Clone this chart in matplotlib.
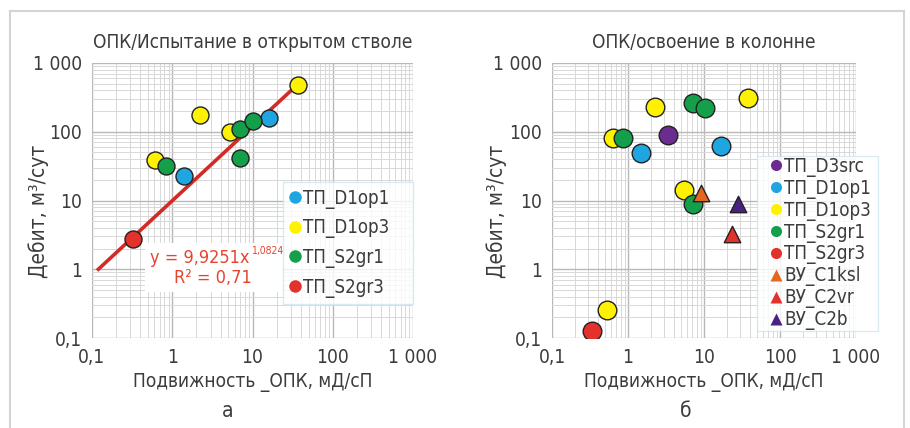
import matplotlib
matplotlib.use("Agg")
import matplotlib.pyplot as plt
import matplotlib.font_manager as fm
from matplotlib.lines import Line2D
from matplotlib.patches import Rectangle
from matplotlib.ticker import FixedLocator, LogLocator, NullFormatter

fonts = fm.fontManager.ttflist
names = {f.name for f in fonts}
has_cond = any(f.name == 'DejaVu Sans' and f.stretch == 'condensed' for f in fonts)
if 'Liberation Sans Narrow' in names:
    FONT, STRETCH = 'Liberation Sans Narrow', 'normal'
elif has_cond:
    FONT, STRETCH = 'DejaVu Sans', 'condensed'
else:
    FONT, STRETCH = 'Lato', 'normal'
plt.rcParams['font.family'] = [FONT, 'DejaVu Sans']
plt.rcParams['font.stretch'] = STRETCH

# ---------------- data: panel a ----------------
a_labels = ['ТП_D1op1', 'ТП_D1op3', 'ТП_S2gr1', 'ТП_S2gr3']
a_d1op1_x = [1.4, 16.0]
a_d1op1_y = [22.5, 158]
a_d1op3_x = [0.61, 2.2, 5.3, 37]
a_d1op3_y = [39, 175, 100, 480]
a_s2gr1_x = [0.84, 7.0, 10.2, 7.0]
a_s2gr1_y = [32, 110, 144, 41.5]
a_s2gr3_x = [0.32]
a_s2gr3_y = [2.75]
trend_a, trend_b = 9.9251, 1.0824
trend_x = [0.12, 37]
eq_text = 'y = 9,9251x'
eq_exp = '1,0824'
r2_text = 'R² = 0,71'

# ---------------- data: panel b ----------------
b_labels = ['ТП_D3src', 'ТП_D1op1', 'ТП_D1op3', 'ТП_S2gr1', 'ТП_S2gr3',
            'ВУ_C1ksl', 'ВУ_C2vr', 'ВУ_C2b']
b_d3src_x = [3.4]
b_d3src_y = [90]
b_d1op1_x = [1.47, 16.6]
b_d1op1_y = [49, 63]
b_d1op3_x = [0.63, 2.27, 38, 5.46, 0.525]
b_d1op3_y = [82, 229, 313, 14.2, 0.258]
b_s2gr1_x = [0.86, 7.1, 10.3, 7.1]
b_s2gr1_y = [82, 259, 219, 8.9]
b_s2gr3_x = [0.333]
b_s2gr3_y = [0.125]
b_c1ksl_x = [9.0]
b_c1ksl_y = [12.7]
b_c2vr_x = [23.5]
b_c2vr_y = [3.26]
b_c2b_x = [27.7]
b_c2b_y = [8.9]

ticks = [0.1, 1, 10, 100, 1000]
tick_labels = ['0,1', '1', '10', '100', '1 000']
titles = ['ОПК/Испытание в открытом стволе', 'ОПК/освоение в колонне']
xlabel = 'Подвижность _ОПК, мД/сП'
ylabel = 'Дебит, м³/сут'
panel_letters = ['а', 'б']

C_BLUE = '#1fa6e0'
C_YEL = '#fff200'
C_GREEN = '#14a04a'
C_RED = '#e3312b'
C_PURP = '#6a2c8e'
C_ORANGE = '#e5671f'
C_TRI_PURP = '#4a2183'
TXT = '#3c3c3c'

fig = plt.figure(figsize=(9.1, 4.28), dpi=100)

def style_axes(ax, ylab_x):
    ax.set_xscale('log')
    ax.set_yscale('log')
    ax.set_xlim(0.1, 1000)
    ax.set_ylim(0.1, 1000)
    ax.xaxis.set_major_locator(FixedLocator(ticks))
    ax.yaxis.set_major_locator(FixedLocator(ticks))
    ax.set_xticklabels(tick_labels)
    ax.set_yticklabels(tick_labels)
    ax.xaxis.set_minor_locator(LogLocator(base=10, subs=[2, 3, 4, 5, 6, 7, 8, 9], numticks=20))
    ax.yaxis.set_minor_locator(LogLocator(base=10, subs=[2, 3, 4, 5, 6, 7, 8, 9], numticks=20))
    ax.xaxis.set_minor_formatter(NullFormatter())
    ax.yaxis.set_minor_formatter(NullFormatter())
    ax.grid(True, which='major', color='#b8b8b8', lw=1.0)
    ax.grid(True, which='minor', color='#d8d8d8', lw=0.7)
    ax.set_axisbelow(True)
    for s in ax.spines.values():
        s.set_visible(False)
    ax.tick_params(which='both', length=0, labelsize=13.8, colors=TXT, pad=7)
    ax.set_xlabel(xlabel, fontsize=13.7, color=TXT)
    ax.xaxis.set_label_coords(0.5, -(382 - 338) / 275, transform=ax.transAxes)
    ax.xaxis.label.set_va('center')
    ax.set_ylabel(ylabel, fontsize=15, color=TXT)
    ax.yaxis.set_label_coords(ylab_x, (338 - 211) / 275, transform=ax.transAxes)
    ax.yaxis.label.set_va('center')

# ---------------- panel a ----------------
ax1 = fig.add_axes([92/910, 1-338/428, 321/910, 275/428])
style_axes(ax1, (39 - 92) / 321)
ax1.set_title(titles[0], fontsize=13.7, color=TXT, pad=11)
tx = trend_x
ty = [trend_a * v ** trend_b for v in tx]
ax1.plot(tx, ty, color='#d22b27', lw=2.6, zorder=2)
kw = dict(s=150, edgecolors='#222222', linewidths=1.0, zorder=3)
ax1.scatter(a_d1op1_x, a_d1op1_y, color=C_BLUE, **kw)
ax1.scatter(a_d1op3_x, a_d1op3_y, color=C_YEL, **kw)
ax1.scatter(a_s2gr1_x, a_s2gr1_y, color=C_GREEN, **kw)
ax1.scatter(a_s2gr3_x, a_s2gr3_y, color=C_RED, **kw)
# white box behind the equation
ax1.add_patch(Rectangle(((145 - 92) / 321, (338 - 292) / 275), (283 - 145) / 321, (292 - 243) / 275,
                        transform=ax1.transAxes, facecolor='white', edgecolor='none', zorder=4))
EQC = '#e8432e'
t_eq = ax1.text((200 - 92) / 321, (338 - 258) / 275, eq_text, transform=ax1.transAxes,
                ha='center', va='center', fontsize=13, color=EQC, zorder=5)
ax1.annotate(eq_exp, xy=(1.0, 0.6), xycoords=t_eq, xytext=(1, 0), textcoords='offset points',
             ha='left', va='bottom', fontsize=7.5, color=EQC, zorder=5)
ax1.text((213 - 92) / 321, (338 - 278) / 275, r2_text, transform=ax1.transAxes,
         ha='center', va='center', fontsize=13, color=EQC, zorder=5)
h1 = [Line2D([], [], ls='none', marker='o', ms=9, mfc=c, mec='none')
      for c in [C_BLUE, C_YEL, C_GREEN, C_RED]]
leg1 = ax1.legend(h1, a_labels, loc='upper left', mode='expand',
                  bbox_to_anchor=((283 - 92) / 321, 0, (413 - 283) / 321, (338 - 182) / 275),
                  fontsize=13.4, frameon=True, fancybox=False, handlelength=0.59,
                  handletextpad=0.13, labelspacing=0.52, borderpad=0.35,
                  borderaxespad=0, labelcolor=TXT)
leg1.get_frame().set_edgecolor('#cde6ee')
leg1.get_frame().set_linewidth(1.0)
leg1.set_zorder(6)

# ---------------- panel b ----------------
ax2 = fig.add_axes([552/910, 1-338/428, 304/910, 275/428])
style_axes(ax2, (497 - 552) / 304)
ax2.set_title(titles[1], fontsize=13.7, color=TXT, pad=11)
kw2 = dict(s=180, edgecolors='#222222', linewidths=1.0, zorder=3)
ax2.scatter(b_d3src_x, b_d3src_y, color=C_PURP, **kw2)
ax2.scatter(b_d1op1_x, b_d1op1_y, color=C_BLUE, **kw2)
ax2.scatter(b_d1op3_x, b_d1op3_y, color=C_YEL, **kw2)
ax2.scatter(b_s2gr1_x, b_s2gr1_y, color=C_GREEN, **kw2)
ax2.scatter(b_s2gr3_x, b_s2gr3_y, color=C_RED, **kw2)
kw3 = dict(s=140, marker='^', edgecolors='#222222', linewidths=1.0, zorder=3)
ax2.scatter(b_c1ksl_x, b_c1ksl_y, color=C_ORANGE, **kw3)
ax2.scatter(b_c2vr_x, b_c2vr_y, color=C_RED, **kw3)
ax2.scatter(b_c2b_x, b_c2b_y, color=C_TRI_PURP, **kw3)
cols2 = [C_PURP, C_BLUE, C_YEL, C_GREEN, C_RED, C_ORANGE, C_RED, C_TRI_PURP]
mks2 = ['o'] * 5 + ['^'] * 3
h2 = [Line2D([], [], ls='none', marker=m, ms=8, mfc=c, mec='none')
      for c, m in zip(cols2, mks2)]
leg2 = ax2.legend(h2, b_labels, loc='upper left', mode='expand',
                  bbox_to_anchor=((757 - 552) / 304, 0, (878 - 757) / 304, (338 - 156) / 275),
                  fontsize=13.5, frameon=True, fancybox=False, handlelength=1.9,
                  handletextpad=-0.5, labelspacing=0.1, borderpad=0.05,
                  borderaxespad=0, labelcolor=TXT)
leg2.get_frame().set_edgecolor('#cde6ee')
leg2.get_frame().set_linewidth(1.0)
leg2.set_zorder(6)

# panel letters
fig.text(228/910, 1-411/428, panel_letters[0], ha='center', va='center', fontsize=15, color=TXT)
fig.text(686/910, 1-411/428, panel_letters[1], ha='center', va='center', fontsize=15, color=TXT)

# frame
fc = '#d4d4d4'
fig.add_artist(Line2D([9.5/910, 903.5/910], [1-11/428, 1-11/428], color=fc, lw=1.5, transform=fig.transFigure))
fig.add_artist(Line2D([9.5/910, 9.5/910], [0, 1-11/428], color=fc, lw=1.5, transform=fig.transFigure))
fig.add_artist(Line2D([903.5/910, 903.5/910], [0, 1-11/428], color=fc, lw=1.5, transform=fig.transFigure))

fig.savefig('out.png', dpi=100)
